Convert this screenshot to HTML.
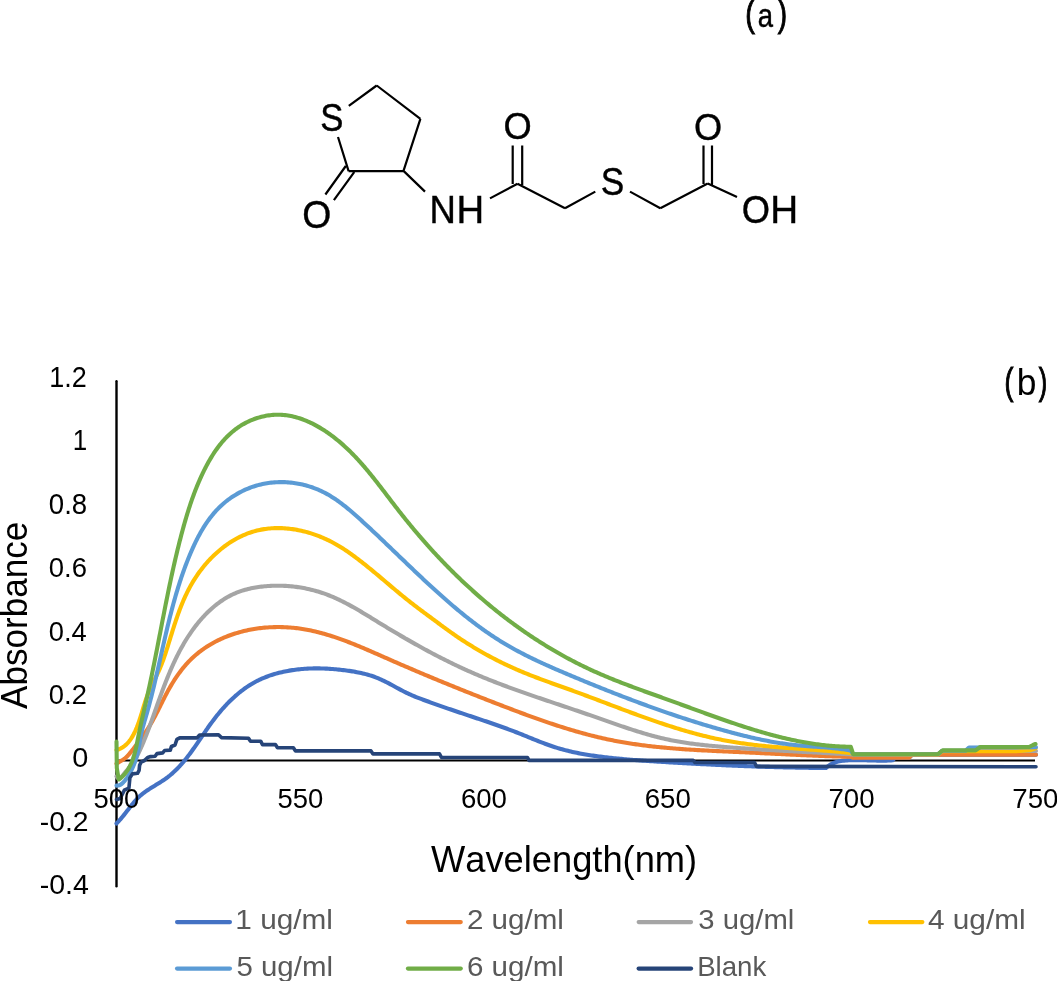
<!DOCTYPE html>
<html><head><meta charset="utf-8"><style>html,body{margin:0;padding:0;background:#fff;overflow:hidden}svg{display:block;will-change:transform}</style></head>
<body><svg width="1057" height="981" viewBox="0 0 1057 981" font-family="&quot;Liberation Sans&quot;, sans-serif" style="font-kerning:none">
<path d="M348.8 105.8L376.7 85.5 M376.7 85.5L420.4 118.9 M420.4 118.9L403.5 170.9 M403.5 171.1L348.6 171.1 M348.6 171.1L338 137 M345.8 166L325.4 194.5 M354.2 172.1L333.9 200.1 M403.5 170.9L425 191.6 M490 198.4L517.5 183.8 M512.7 145.4L512.7 184 M522.2 145.4L522.2 185 M517.5 183.8L565 208.2 M565 208.2L595.3 191.6 M630 191.6L660.3 208.2 M660.3 208.2L707.7 183.5 M703.5 145.6L703.5 184 M712 145.6L712 185 M707.7 183.5L737 197" stroke="#000" stroke-width="2.2" fill="none"/>
<text transform="translate(320.32 131.32) scale(1 1.1221)" font-size="34.74" fill="#000" stroke="#000" stroke-width="0.4">S</text>
<text transform="translate(302.13 227.62) scale(1 1.0322)" font-size="37.36" fill="#000" stroke="#000" stroke-width="0.4">O</text>
<text transform="translate(429.50 223.40) scale(1 1.0865)" font-size="36.52" fill="#000" stroke="#000" stroke-width="0.4">N</text>
<text transform="translate(456.46 223.40) scale(1 1.0358)" font-size="38.31" fill="#000" stroke="#000" stroke-width="0.4">H</text>
<text transform="translate(503.58 139.34) scale(1 1.0030)" font-size="36.33" fill="#000" stroke="#000" stroke-width="0.4">O</text>
<text transform="translate(600.80 195.23) scale(1 1.0855)" font-size="35.26" fill="#000" stroke="#000" stroke-width="0.4">S</text>
<text transform="translate(693.99 139.53) scale(1 1.0344)" font-size="36.18" fill="#000" stroke="#000" stroke-width="0.4">O</text>
<text transform="translate(741.78 222.92) scale(1 1.0691)" font-size="36.33" fill="#000" stroke="#000" stroke-width="0.4">O</text>
<text transform="translate(770.23 223.30) scale(1 1.0224)" font-size="38.67" fill="#000" stroke="#000" stroke-width="0.4">H</text>
<path d="M116.5 760.5H1035" stroke="#000" stroke-width="2.2" fill="none"/>
<path d="M116.5 381.2V886.3" stroke="#000" stroke-width="2.4" stroke-linecap="round" fill="none"/>
<path d="M116.50 823.50L117.55 822.42L118.57 821.33L119.58 820.21L120.57 819.08L121.55 817.93L122.51 816.77L123.46 815.59L124.41 814.41L125.34 813.22L126.27 812.03L127.20 810.83L128.12 809.63L129.05 808.44L129.97 807.25L130.91 806.06L131.84 804.88L132.79 803.71L133.75 802.56L134.72 801.42L135.72 800.30L136.73 799.20L137.76 798.12L138.83 797.08L139.92 796.06L141.04 795.07L142.19 794.12L143.37 793.19L144.57 792.28L145.80 791.40L147.04 790.54L148.31 789.70L149.58 788.87L150.87 788.05L152.17 787.24L153.47 786.44L154.78 785.65L156.08 784.85L157.39 784.06L158.69 783.26L159.99 782.45L161.27 781.64L162.55 780.81L163.81 779.97L165.05 779.12L166.28 778.24L167.48 777.35L168.66 776.43L169.83 775.50L170.97 774.55L172.10 773.58L173.21 772.59L174.30 771.59L175.37 770.57L176.43 769.53L177.48 768.48L178.51 767.42L179.52 766.34L180.52 765.24L181.51 764.14L182.49 763.02L183.45 761.89L184.40 760.75L185.35 759.59L186.28 758.43L187.20 757.26L188.12 756.07L189.02 754.88L189.92 753.68L190.81 752.47L191.70 751.26L192.57 750.04L193.45 748.81L194.31 747.58L195.18 746.34L196.04 745.10L196.90 743.85L197.75 742.60L198.60 741.35L199.46 740.10L200.31 738.84L201.16 737.58L202.01 736.32L202.86 735.07L203.72 733.81L204.57 732.55L205.43 731.29L206.30 730.04L207.16 728.79L208.03 727.54L208.91 726.30L209.79 725.06L210.68 723.82L211.58 722.59L212.48 721.37L213.39 720.15L214.31 718.94L215.24 717.73L216.18 716.54L217.12 715.35L218.08 714.17L219.04 712.99L220.01 711.83L220.99 710.67L221.98 709.53L222.98 708.39L223.99 707.27L225.01 706.15L226.04 705.05L227.07 703.96L228.12 702.88L229.18 701.81L230.25 700.75L231.32 699.71L232.41 698.68L233.51 697.66L234.61 696.65L235.73 695.66L236.86 694.69L238.00 693.73L239.15 692.78L240.31 691.85L241.48 690.93L242.67 690.04L243.86 689.15L245.07 688.29L246.28 687.44L247.51 686.61L248.75 685.80L250.00 685.00L251.27 684.22L252.54 683.47L253.83 682.73L255.13 682.01L256.44 681.31L257.77 680.63L259.10 679.97L260.45 679.34L261.81 678.72L263.18 678.12L264.57 677.55L265.96 676.99L267.36 676.46L268.78 675.94L270.20 675.44L271.63 674.96L273.07 674.50L274.52 674.06L275.98 673.64L277.44 673.24L278.91 672.85L280.39 672.48L281.87 672.13L283.36 671.80L284.85 671.48L286.35 671.18L287.85 670.90L289.36 670.63L290.87 670.38L292.38 670.15L293.89 669.93L295.41 669.73L296.93 669.54L298.45 669.37L299.97 669.21L301.49 669.06L303.01 668.94L304.53 668.82L306.04 668.72L307.56 668.63L309.08 668.56L310.59 668.50L312.10 668.46L313.61 668.42L315.11 668.40L316.61 668.39L318.11 668.40L319.60 668.41L321.09 668.44L322.57 668.48L324.06 668.53L325.54 668.59L327.02 668.66L328.50 668.74L329.98 668.84L331.45 668.94L332.93 669.05L334.41 669.18L335.89 669.31L337.37 669.45L338.85 669.60L340.34 669.76L341.83 669.93L343.32 670.10L344.81 670.29L346.31 670.48L347.81 670.69L349.31 670.90L350.81 671.12L352.32 671.36L353.82 671.60L355.32 671.86L356.81 672.14L358.31 672.43L359.80 672.73L361.28 673.05L362.76 673.39L364.23 673.74L365.69 674.12L367.15 674.51L368.59 674.92L370.03 675.36L371.46 675.81L372.88 676.29L374.29 676.79L375.69 677.32L377.08 677.86L378.46 678.44L379.84 679.03L381.20 679.64L382.55 680.27L383.90 680.92L385.25 681.58L386.58 682.26L387.92 682.94L389.25 683.64L390.57 684.35L391.90 685.06L393.22 685.77L394.54 686.49L395.86 687.21L397.18 687.93L398.51 688.65L399.83 689.37L401.16 690.08L402.49 690.78L403.83 691.47L405.17 692.15L406.51 692.82L407.86 693.47L409.22 694.11L410.59 694.73L411.97 695.33L413.35 695.92L414.74 696.49L416.13 697.05L417.53 697.60L418.94 698.14L420.34 698.67L421.75 699.20L423.16 699.72L424.57 700.25L425.99 700.77L427.40 701.29L428.82 701.80L430.23 702.31L431.65 702.83L433.07 703.34L434.49 703.84L435.91 704.35L437.33 704.85L438.75 705.35L440.17 705.85L441.60 706.35L443.02 706.85L444.45 707.34L445.87 707.84L447.30 708.33L448.73 708.82L450.15 709.31L451.58 709.79L453.01 710.28L454.44 710.77L455.86 711.25L457.29 711.73L458.72 712.22L460.15 712.70L461.58 713.18L463.01 713.66L464.44 714.14L465.86 714.62L467.29 715.09L468.72 715.57L470.15 716.05L471.58 716.53L473.00 717.00L474.43 717.48L475.86 717.96L477.28 718.43L478.71 718.91L480.13 719.39L481.56 719.87L482.98 720.34L484.40 720.82L485.83 721.31L487.25 721.79L488.67 722.27L490.09 722.76L491.51 723.25L492.93 723.74L494.35 724.23L495.77 724.72L497.19 725.22L498.61 725.72L500.02 726.22L501.44 726.73L502.85 727.23L504.27 727.75L505.68 728.26L507.09 728.78L508.50 729.30L509.91 729.83L511.32 730.36L512.73 730.89L514.14 731.43L515.55 731.97L516.95 732.52L518.36 733.07L519.76 733.63L521.16 734.19L522.57 734.76L523.97 735.32L525.37 735.89L526.77 736.47L528.17 737.04L529.57 737.61L530.97 738.18L532.37 738.76L533.78 739.33L535.18 739.89L536.58 740.46L537.99 741.02L539.39 741.57L540.80 742.13L542.21 742.67L543.62 743.21L545.03 743.74L546.45 744.27L547.86 744.78L549.28 745.29L550.70 745.79L552.13 746.27L553.56 746.75L554.99 747.21L556.42 747.66L557.86 748.10L559.29 748.53L560.74 748.95L562.18 749.35L563.63 749.75L565.08 750.13L566.53 750.50L567.99 750.86L569.45 751.21L570.91 751.55L572.37 751.89L573.84 752.21L575.30 752.52L576.77 752.82L578.25 753.12L579.72 753.40L581.19 753.68L582.67 753.95L584.15 754.21L585.63 754.47L587.11 754.72L588.60 754.96L590.08 755.19L591.57 755.42L593.06 755.64L594.55 755.85L596.04 756.06L597.53 756.26L599.02 756.46L600.51 756.65L602.01 756.84L603.50 757.02L605.00 757.20L606.49 757.37L607.99 757.54L609.49 757.70L610.98 757.86L612.48 758.02L613.98 758.18L615.48 758.33L616.98 758.48L618.47 758.62L619.97 758.77L621.47 758.91L622.97 759.04L624.47 759.18L625.97 759.31L627.47 759.44L628.98 759.56L630.48 759.69L631.98 759.81L633.48 759.93L634.98 760.05L636.48 760.16L637.99 760.28L639.49 760.39L640.99 760.50L642.49 760.60L644.00 760.71L645.50 760.81L647.00 760.92L648.50 761.02L650.01 761.12L651.51 761.22L653.01 761.31L654.52 761.41L656.02 761.51L657.52 761.60L659.03 761.69L660.53 761.79L662.03 761.88L663.54 761.97L665.04 762.06L666.54 762.15L668.05 762.24L669.55 762.33L671.05 762.42L672.56 762.51L674.06 762.60L675.56 762.68L677.07 762.77L678.57 762.86L680.07 762.94L681.58 763.03L683.08 763.11L684.58 763.20L686.09 763.28L687.59 763.37L689.09 763.45L690.60 763.53L692.10 763.61L693.60 763.69L695.11 763.78L696.61 763.86L698.11 763.93L699.62 764.01L701.12 764.09L702.62 764.17L704.13 764.25L705.63 764.32L707.13 764.40L708.63 764.48L710.14 764.55L711.64 764.62L713.14 764.70L714.65 764.77L716.15 764.84L717.65 764.91L719.16 764.98L720.66 765.06L722.16 765.12L723.67 765.19L725.17 765.26L726.67 765.33L728.18 765.40L729.68 765.46L731.18 765.53L732.69 765.59L734.19 765.66L735.69 765.72L737.20 765.78L738.70 765.84L740.21 765.91L741.71 765.97L743.21 766.03L744.72 766.08L746.22 766.14L747.72 766.20L749.23 766.26L750.73 766.31L752.23 766.37L753.74 766.42L755.24 766.48L756.75 766.53L758.25 766.58L759.76 766.63L761.26 766.68L762.76 766.73L764.27 766.78L765.77 766.83L767.28 766.88L768.78 766.92L770.29 766.97L771.79 767.01L773.29 767.05L774.80 767.10L776.30 767.14L777.81 767.18L779.31 767.22L780.82 767.26L782.32 767.30L783.83 767.34L785.33 767.37L786.84 767.41L788.34 767.44L789.85 767.48L791.35 767.51L792.86 767.54L794.37 767.57L795.87 767.60L797.38 767.63L798.88 767.66L800.39 767.69L801.89 767.71L803.40 767.74L804.91 767.76L806.41 767.79L807.92 767.81L809.42 767.83L810.93 767.85L812.44 767.87L813.94 767.89L815.45 767.91L816.96 767.92L818.46 767.94L819.97 767.95L821.48 767.97L822.99 767.98L824.49 767.99L826.00 768.00L826.00 768.00L827.16 766.92L828.36 765.94L829.62 765.06L830.92 764.28L832.26 763.59L833.64 762.99L835.06 762.46L836.50 762.00L837.98 761.62L839.47 761.29L840.99 761.02L842.53 760.79L844.08 760.61L845.65 760.47L847.22 760.36L848.80 760.28L850.38 760.22L851.96 760.17L853.54 760.14L855.11 760.13L856.69 760.12L858.27 760.13L859.84 760.15L861.42 760.18L862.99 760.21L864.56 760.25L866.13 760.29L867.70 760.33L869.27 760.38L870.84 760.43L872.41 760.47L873.97 760.51L875.53 760.55L877.10 760.58L878.66 760.61L880.21 760.63L881.77 760.63L883.32 760.63L884.87 760.61L886.42 760.58L887.97 760.54L889.52 760.48L891.06 760.40L892.60 760.30L892.60 760.30L895.00 757.80L909.00 757.80L912.00 754.70L1036.00 754.70" stroke="#4472C4" stroke-width="4.1" stroke-linecap="round" stroke-linejoin="round" fill="none"/>
<path d="M116.50 763.70L117.78 762.88L119.09 762.09L120.40 761.32L121.70 760.55L122.97 759.76L124.19 758.92L125.35 758.02L126.44 757.04L127.47 756.01L128.46 754.93L129.40 753.81L130.33 752.66L131.25 751.49L132.16 750.32L133.08 749.14L134.00 747.96L134.91 746.77L135.83 745.58L136.75 744.39L137.66 743.19L138.57 741.98L139.47 740.77L140.37 739.55L141.27 738.33L142.15 737.11L143.03 735.88L143.90 734.64L144.76 733.40L145.60 732.15L146.44 730.90L147.26 729.64L148.07 728.38L148.87 727.11L149.65 725.83L150.41 724.55L151.16 723.27L151.90 721.98L152.62 720.68L153.34 719.38L154.04 718.08L154.74 716.78L155.43 715.47L156.11 714.15L156.78 712.84L157.45 711.52L158.12 710.20L158.78 708.88L159.44 707.55L160.10 706.23L160.76 704.90L161.42 703.57L162.08 702.25L162.74 700.92L163.41 699.59L164.08 698.27L164.76 696.94L165.44 695.61L166.13 694.29L166.83 692.97L167.54 691.65L168.26 690.33L168.99 689.02L169.73 687.70L170.49 686.40L171.26 685.09L172.04 683.79L172.83 682.50L173.63 681.21L174.45 679.93L175.28 678.66L176.13 677.39L176.98 676.14L177.85 674.89L178.74 673.65L179.64 672.43L180.55 671.21L181.47 670.01L182.41 668.82L183.37 667.64L184.34 666.48L185.32 665.33L186.32 664.20L187.33 663.08L188.35 661.98L189.40 660.90L190.45 659.83L191.52 658.78L192.61 657.76L193.71 656.74L194.82 655.75L195.95 654.77L197.10 653.82L198.25 652.88L199.42 651.95L200.60 651.05L201.80 650.16L203.00 649.29L204.22 648.44L205.45 647.60L206.70 646.78L207.95 645.98L209.22 645.20L210.49 644.43L211.78 643.69L213.08 642.95L214.38 642.24L215.70 641.54L217.03 640.86L218.37 640.20L219.71 639.55L221.07 638.92L222.43 638.31L223.81 637.71L225.19 637.14L226.58 636.57L227.97 636.03L229.38 635.50L230.79 634.99L232.21 634.49L233.63 634.01L235.06 633.55L236.50 633.10L237.95 632.67L239.40 632.26L240.85 631.86L242.31 631.48L243.78 631.11L245.25 630.76L246.73 630.43L248.21 630.11L249.69 629.81L251.18 629.52L252.67 629.25L254.17 629.00L255.67 628.76L257.17 628.54L258.67 628.33L260.18 628.14L261.69 627.97L263.20 627.81L264.71 627.66L266.22 627.54L267.74 627.42L269.25 627.32L270.77 627.24L272.29 627.18L273.80 627.12L275.32 627.09L276.84 627.07L278.35 627.06L279.87 627.07L281.38 627.09L282.89 627.13L284.41 627.18L285.92 627.25L287.42 627.34L288.93 627.43L290.43 627.55L291.93 627.68L293.43 627.82L294.92 627.97L296.42 628.15L297.90 628.33L299.39 628.53L300.87 628.75L302.35 628.97L303.82 629.21L305.29 629.47L306.76 629.73L308.23 630.01L309.69 630.30L311.15 630.61L312.61 630.92L314.06 631.25L315.51 631.59L316.96 631.94L318.41 632.30L319.85 632.67L321.29 633.05L322.73 633.45L324.17 633.85L325.60 634.26L327.03 634.68L328.46 635.11L329.89 635.55L331.31 636.00L332.74 636.46L334.16 636.92L335.58 637.40L336.99 637.88L338.41 638.37L339.82 638.87L341.23 639.37L342.64 639.88L344.05 640.40L345.46 640.92L346.86 641.45L348.26 641.99L349.67 642.53L351.07 643.08L352.47 643.63L353.86 644.19L355.26 644.76L356.65 645.32L358.05 645.90L359.44 646.47L360.83 647.05L362.22 647.63L363.61 648.22L365.00 648.81L366.39 649.40L367.77 650.00L369.16 650.60L370.55 651.20L371.93 651.80L373.31 652.41L374.70 653.01L376.08 653.62L377.46 654.23L378.84 654.84L380.23 655.44L381.61 656.05L382.99 656.66L384.37 657.27L385.75 657.88L387.13 658.49L388.51 659.10L389.89 659.71L391.27 660.31L392.65 660.92L394.03 661.52L395.41 662.12L396.79 662.72L398.17 663.32L399.55 663.92L400.93 664.52L402.31 665.12L403.69 665.71L405.07 666.31L406.45 666.90L407.83 667.49L409.21 668.08L410.59 668.67L411.98 669.26L413.36 669.85L414.74 670.44L416.12 671.02L417.50 671.61L418.88 672.19L420.26 672.78L421.65 673.36L423.03 673.94L424.41 674.52L425.79 675.10L427.17 675.68L428.56 676.26L429.94 676.83L431.32 677.41L432.71 677.99L434.09 678.56L435.47 679.13L436.86 679.71L438.24 680.28L439.63 680.85L441.01 681.42L442.40 681.99L443.78 682.55L445.17 683.12L446.55 683.69L447.94 684.25L449.33 684.82L450.71 685.38L452.10 685.94L453.49 686.51L454.88 687.07L456.26 687.63L457.65 688.19L459.04 688.75L460.43 689.31L461.82 689.87L463.21 690.42L464.60 690.98L465.99 691.54L467.38 692.09L468.77 692.64L470.17 693.20L471.56 693.75L472.95 694.30L474.34 694.86L475.74 695.41L477.13 695.96L478.53 696.51L479.92 697.06L481.32 697.60L482.71 698.15L484.11 698.70L485.51 699.25L486.91 699.79L488.30 700.34L489.70 700.88L491.10 701.43L492.50 701.97L493.90 702.52L495.30 703.06L496.70 703.60L498.11 704.14L499.51 704.68L500.91 705.22L502.32 705.77L503.72 706.30L505.12 706.84L506.53 707.38L507.94 707.92L509.34 708.46L510.75 708.99L512.16 709.53L513.57 710.06L514.98 710.59L516.39 711.12L517.80 711.65L519.21 712.18L520.62 712.71L522.03 713.23L523.45 713.76L524.86 714.28L526.27 714.80L527.69 715.32L529.11 715.84L530.52 716.35L531.94 716.86L533.36 717.37L534.78 717.88L536.20 718.39L537.62 718.89L539.04 719.40L540.46 719.90L541.88 720.39L543.31 720.89L544.73 721.38L546.16 721.87L547.58 722.36L549.01 722.84L550.44 723.32L551.87 723.80L553.30 724.28L554.73 724.75L556.16 725.22L557.59 725.68L559.02 726.15L560.45 726.61L561.89 727.06L563.32 727.51L564.76 727.96L566.20 728.41L567.63 728.85L569.07 729.29L570.51 729.72L571.95 730.15L573.39 730.58L574.84 731.00L576.28 731.42L577.72 731.83L579.17 732.24L580.61 732.65L582.06 733.05L583.51 733.45L584.96 733.84L586.41 734.23L587.86 734.61L589.31 734.99L590.76 735.37L592.22 735.74L593.67 736.10L595.13 736.46L596.58 736.81L598.04 737.16L599.50 737.51L600.96 737.85L602.42 738.18L603.88 738.51L605.35 738.83L606.81 739.15L608.27 739.46L609.74 739.77L611.21 740.07L612.68 740.36L614.14 740.65L615.62 740.94L617.09 741.21L618.56 741.49L620.03 741.75L621.51 742.02L622.98 742.27L624.46 742.53L625.93 742.77L627.41 743.02L628.89 743.25L630.37 743.49L631.85 743.71L633.33 743.94L634.82 744.15L636.30 744.37L637.78 744.58L639.27 744.78L640.75 744.98L642.24 745.18L643.73 745.37L645.21 745.56L646.70 745.74L648.19 745.92L649.68 746.10L651.17 746.27L652.66 746.44L654.16 746.61L655.65 746.77L657.14 746.92L658.63 747.08L660.13 747.23L661.62 747.38L663.12 747.52L664.61 747.66L666.11 747.80L667.61 747.93L669.10 748.06L670.60 748.19L672.10 748.32L673.60 748.44L675.10 748.56L676.60 748.68L678.10 748.79L679.60 748.90L681.10 749.01L682.60 749.12L684.10 749.23L685.60 749.33L687.11 749.43L688.61 749.53L690.11 749.62L691.61 749.72L693.12 749.81L694.62 749.90L696.12 749.99L697.63 750.08L699.13 750.16L700.63 750.25L702.14 750.33L703.64 750.41L705.15 750.49L706.65 750.57L708.16 750.64L709.66 750.72L711.17 750.80L712.67 750.87L714.18 750.94L715.68 751.01L717.19 751.09L718.69 751.16L720.20 751.23L721.70 751.30L723.20 751.36L724.71 751.43L726.21 751.50L727.72 751.57L729.22 751.64L730.73 751.70L732.23 751.77L733.73 751.84L735.24 751.91L736.74 751.97L738.24 752.04L739.75 752.11L741.25 752.18L742.75 752.24L744.26 752.31L745.76 752.38L747.26 752.45L748.76 752.52L750.26 752.59L751.76 752.67L753.26 752.74L754.76 752.81L756.26 752.88L757.76 752.96L759.26 753.03L760.76 753.10L762.26 753.18L763.76 753.25L765.26 753.33L766.76 753.40L768.26 753.48L769.76 753.55L771.25 753.63L772.75 753.70L774.25 753.77L775.75 753.85L777.25 753.92L778.74 754.00L780.24 754.07L781.74 754.15L783.24 754.22L784.74 754.30L786.23 754.37L787.73 754.44L789.23 754.52L790.73 754.59L792.22 754.66L793.72 754.73L795.22 754.80L796.72 754.87L798.22 754.94L799.72 755.01L801.21 755.08L802.71 755.15L804.21 755.22L805.71 755.29L807.21 755.35L808.71 755.42L810.21 755.48L811.71 755.55L813.21 755.61L814.71 755.67L816.21 755.73L817.71 755.79L819.21 755.85L820.71 755.91L822.21 755.97L823.71 756.02L825.21 756.08L826.71 756.13L828.22 756.18L829.72 756.23L831.22 756.28L832.73 756.33L834.23 756.38L835.73 756.43L837.24 756.47L838.74 756.51L840.25 756.55L841.76 756.59L843.26 756.63L844.77 756.67L846.28 756.70L847.78 756.74L849.29 756.77L850.80 756.80L850.80 756.80L853.20 757.80L909.00 757.80L912.00 754.70L1036.00 754.70" stroke="#ED7D31" stroke-width="4.1" stroke-linecap="round" stroke-linejoin="round" fill="none"/>
<path d="M116.50 776.40L117.52 777.81L118.52 778.46L119.50 778.49L120.49 777.99L121.47 777.10L122.47 775.92L123.48 774.57L124.51 773.16L125.57 771.82L126.66 770.57L127.75 769.41L128.84 768.29L129.89 767.18L130.90 766.07L131.84 764.91L132.72 763.71L133.54 762.47L134.32 761.20L135.06 759.90L135.77 758.59L136.46 757.26L137.14 755.92L137.80 754.58L138.45 753.24L139.10 751.89L139.73 750.53L140.36 749.18L140.97 747.82L141.58 746.45L142.17 745.08L142.76 743.71L143.35 742.34L143.92 740.96L144.49 739.58L145.05 738.19L145.61 736.80L146.16 735.41L146.70 734.02L147.24 732.62L147.77 731.22L148.30 729.82L148.83 728.42L149.35 727.01L149.87 725.60L150.38 724.19L150.89 722.78L151.40 721.37L151.91 719.95L152.42 718.54L152.92 717.12L153.43 715.70L153.93 714.28L154.43 712.86L154.94 711.43L155.44 710.01L155.94 708.58L156.45 707.16L156.95 705.73L157.46 704.31L157.97 702.88L158.48 701.46L158.99 700.03L159.50 698.61L160.02 697.18L160.54 695.76L161.06 694.33L161.58 692.91L162.10 691.49L162.63 690.07L163.16 688.65L163.70 687.23L164.24 685.82L164.78 684.41L165.33 682.99L165.88 681.58L166.44 680.18L167.00 678.77L167.56 677.37L168.13 675.97L168.70 674.57L169.28 673.18L169.87 671.79L170.46 670.40L171.06 669.02L171.66 667.64L172.27 666.26L172.89 664.89L173.51 663.52L174.14 662.16L174.78 660.80L175.42 659.45L176.07 658.10L176.73 656.75L177.40 655.41L178.08 654.07L178.76 652.74L179.45 651.42L180.15 650.10L180.86 648.79L181.58 647.48L182.31 646.18L183.04 644.88L183.79 643.59L184.55 642.31L185.31 641.03L186.09 639.77L186.87 638.50L187.67 637.25L188.48 636.00L189.30 634.76L190.13 633.53L190.97 632.30L191.82 631.08L192.68 629.87L193.56 628.67L194.45 627.48L195.35 626.29L196.26 625.12L197.19 623.95L198.12 622.79L199.07 621.64L200.04 620.50L201.02 619.37L202.01 618.25L203.01 617.14L204.03 616.04L205.06 614.95L206.10 613.88L207.16 612.81L208.23 611.77L209.32 610.73L210.41 609.71L211.52 608.71L212.65 607.72L213.79 606.75L214.94 605.79L216.10 604.86L217.28 603.94L218.47 603.04L219.68 602.15L220.90 601.29L222.13 600.45L223.38 599.63L224.63 598.83L225.91 598.06L227.19 597.30L228.49 596.57L229.81 595.87L231.14 595.19L232.48 594.53L233.83 593.90L235.20 593.29L236.58 592.71L237.98 592.16L239.39 591.64L240.81 591.14L242.24 590.67L243.68 590.22L245.14 589.80L246.60 589.40L248.07 589.03L249.55 588.68L251.04 588.35L252.54 588.04L254.04 587.76L255.54 587.50L257.05 587.25L258.56 587.03L260.08 586.82L261.60 586.64L263.12 586.47L264.64 586.32L266.16 586.18L267.68 586.06L269.20 585.96L270.71 585.88L272.23 585.81L273.74 585.76L275.26 585.72L276.77 585.70L278.28 585.69L279.79 585.71L281.30 585.74L282.81 585.78L284.31 585.84L285.81 585.92L287.31 586.01L288.81 586.12L290.31 586.24L291.80 586.38L293.29 586.54L294.77 586.71L296.26 586.90L297.74 587.10L299.22 587.32L300.69 587.55L302.16 587.80L303.63 588.07L305.09 588.35L306.56 588.65L308.01 588.96L309.46 589.29L310.91 589.64L312.36 590.00L313.80 590.37L315.23 590.76L316.66 591.17L318.09 591.59L319.51 592.03L320.93 592.48L322.34 592.95L323.74 593.43L325.14 593.93L326.54 594.44L327.93 594.97L329.31 595.51L330.69 596.07L332.07 596.64L333.44 597.22L334.80 597.82L336.16 598.43L337.52 599.05L338.87 599.69L340.21 600.34L341.56 600.99L342.90 601.66L344.23 602.34L345.56 603.03L346.89 603.72L348.21 604.43L349.54 605.14L350.85 605.87L352.17 606.60L353.48 607.33L354.79 608.08L356.10 608.83L357.41 609.58L358.71 610.34L360.01 611.11L361.31 611.88L362.61 612.66L363.91 613.44L365.20 614.22L366.50 615.00L367.79 615.79L369.09 616.58L370.38 617.37L371.67 618.17L372.96 618.96L374.25 619.76L375.54 620.55L376.83 621.34L378.12 622.14L379.41 622.93L380.70 623.72L382.00 624.51L383.29 625.29L384.58 626.08L385.88 626.86L387.17 627.64L388.46 628.43L389.76 629.20L391.05 629.98L392.35 630.76L393.65 631.53L394.95 632.30L396.24 633.07L397.54 633.84L398.84 634.60L400.14 635.37L401.44 636.13L402.75 636.89L404.05 637.64L405.35 638.40L406.66 639.15L407.96 639.90L409.27 640.65L410.57 641.39L411.88 642.14L413.19 642.88L414.50 643.62L415.81 644.35L417.12 645.09L418.44 645.82L419.75 646.55L421.07 647.27L422.38 648.00L423.70 648.72L425.02 649.44L426.34 650.15L427.66 650.86L428.98 651.57L430.30 652.28L431.63 652.98L432.95 653.69L434.28 654.38L435.61 655.08L436.94 655.77L438.27 656.46L439.60 657.15L440.93 657.83L442.27 658.51L443.60 659.19L444.94 659.86L446.28 660.53L447.62 661.20L448.96 661.86L450.30 662.52L451.65 663.18L453.00 663.83L454.35 664.48L455.69 665.13L457.05 665.77L458.40 666.41L459.75 667.04L461.11 667.67L462.47 668.30L463.83 668.93L465.19 669.55L466.55 670.17L467.92 670.78L469.29 671.39L470.65 671.99L472.03 672.59L473.40 673.19L474.77 673.79L476.15 674.38L477.53 674.96L478.91 675.54L480.29 676.12L481.67 676.70L483.05 677.27L484.44 677.84L485.83 678.41L487.22 678.97L488.61 679.53L490.00 680.08L491.39 680.64L492.79 681.19L494.18 681.73L495.58 682.28L496.98 682.82L498.38 683.36L499.78 683.89L501.19 684.43L502.59 684.96L504.00 685.48L505.40 686.01L506.81 686.53L508.22 687.05L509.63 687.57L511.04 688.09L512.45 688.60L513.86 689.12L515.28 689.63L516.69 690.14L518.11 690.64L519.52 691.15L520.94 691.65L522.36 692.15L523.78 692.65L525.20 693.15L526.62 693.64L528.04 694.14L529.46 694.63L530.88 695.13L532.30 695.62L533.73 696.11L535.15 696.60L536.58 697.08L538.00 697.57L539.43 698.06L540.85 698.54L542.28 699.02L543.70 699.51L545.13 699.99L546.56 700.47L547.99 700.95L549.41 701.43L550.84 701.91L552.27 702.39L553.70 702.87L555.13 703.35L556.56 703.83L557.98 704.31L559.41 704.79L560.84 705.27L562.27 705.75L563.70 706.22L565.13 706.70L566.56 707.18L567.99 707.66L569.41 708.14L570.84 708.62L572.27 709.10L573.70 709.58L575.13 710.07L576.55 710.55L577.98 711.03L579.41 711.51L580.83 712.00L582.26 712.49L583.68 712.97L585.11 713.46L586.53 713.95L587.96 714.44L589.38 714.93L590.80 715.42L592.22 715.92L593.65 716.41L595.07 716.91L596.49 717.40L597.91 717.90L599.33 718.40L600.75 718.90L602.17 719.40L603.58 719.90L605.00 720.40L606.42 720.90L607.84 721.40L609.26 721.89L610.68 722.39L612.09 722.89L613.51 723.38L614.93 723.88L616.35 724.37L617.77 724.86L619.19 725.35L620.61 725.83L622.03 726.32L623.45 726.80L624.87 727.28L626.29 727.76L627.72 728.23L629.14 728.70L630.56 729.17L631.99 729.63L633.41 730.09L634.84 730.55L636.27 731.00L637.70 731.45L639.13 731.89L640.56 732.33L641.99 732.77L643.43 733.20L644.86 733.62L646.30 734.04L647.74 734.45L649.18 734.86L650.62 735.26L652.06 735.66L653.50 736.05L654.95 736.43L656.40 736.81L657.85 737.18L659.30 737.54L660.75 737.90L662.21 738.25L663.66 738.59L665.12 738.92L666.59 739.25L668.05 739.57L669.52 739.88L670.98 740.18L672.45 740.47L673.93 740.76L675.40 741.04L676.88 741.31L678.36 741.57L679.84 741.82L681.32 742.07L682.81 742.31L684.29 742.55L685.78 742.77L687.27 742.99L688.76 743.21L690.25 743.42L691.75 743.62L693.24 743.82L694.74 744.01L696.23 744.20L697.73 744.38L699.23 744.55L700.73 744.73L702.23 744.89L703.73 745.05L705.24 745.21L706.74 745.37L708.24 745.52L709.75 745.67L711.25 745.81L712.76 745.95L714.26 746.09L715.77 746.22L717.27 746.35L718.78 746.48L720.28 746.61L721.79 746.73L723.29 746.85L724.80 746.97L726.30 747.09L727.81 747.21L729.31 747.33L730.81 747.44L732.32 747.56L733.82 747.67L735.32 747.78L736.82 747.89L738.33 748.00L739.83 748.11L741.33 748.21L742.83 748.32L744.33 748.42L745.83 748.52L747.33 748.63L748.83 748.73L750.33 748.83L751.83 748.92L753.32 749.02L754.82 749.12L756.32 749.21L757.82 749.31L759.32 749.40L760.82 749.50L762.31 749.59L763.81 749.68L765.31 749.77L766.81 749.86L768.30 749.95L769.80 750.04L771.30 750.13L772.79 750.21L774.29 750.30L775.79 750.39L777.28 750.47L778.78 750.56L780.28 750.64L781.77 750.72L783.27 750.81L784.77 750.89L786.26 750.97L787.76 751.05L789.26 751.13L790.75 751.22L792.25 751.30L793.75 751.38L795.25 751.46L796.74 751.54L798.24 751.62L799.74 751.69L801.23 751.77L802.73 751.85L804.23 751.93L805.73 752.01L807.23 752.09L808.72 752.16L810.22 752.24L811.72 752.32L813.22 752.40L814.72 752.48L816.22 752.55L817.72 752.63L819.22 752.71L820.72 752.79L822.22 752.87L823.72 752.94L825.22 753.02L826.72 753.10L828.23 753.18L829.73 753.26L831.23 753.34L832.73 753.42L834.24 753.50L835.74 753.58L837.24 753.66L838.75 753.74L840.25 753.82L841.76 753.90L843.26 753.98L844.77 754.07L846.28 754.15L847.78 754.23L849.29 754.32L850.80 754.40L850.80 754.40L853.20 754.30L938.00 754.30L942.00 751.00L1036.00 751.00" stroke="#A5A5A5" stroke-width="4.1" stroke-linecap="round" stroke-linejoin="round" fill="none"/>
<path d="M116.50 750.10L118.03 749.60L119.50 749.00L120.88 748.33L122.20 747.59L123.45 746.77L124.64 745.88L125.77 744.93L126.83 743.93L127.85 742.86L128.81 741.75L129.72 740.60L130.58 739.40L131.41 738.17L132.19 736.90L132.93 735.61L133.64 734.30L134.32 732.96L134.97 731.62L135.59 730.26L136.19 728.88L136.77 727.50L137.32 726.10L137.86 724.70L138.38 723.29L138.88 721.87L139.37 720.44L139.84 719.01L140.30 717.57L140.76 716.12L141.21 714.68L141.65 713.23L142.09 711.78L142.52 710.33L142.96 708.87L143.40 707.42L143.84 705.97L144.29 704.53L144.74 703.08L145.20 701.65L145.68 700.21L146.16 698.79L146.66 697.37L147.18 695.96L147.71 694.55L148.26 693.16L148.83 691.78L149.43 690.40L150.03 689.04L150.66 687.68L151.30 686.33L151.94 684.98L152.60 683.64L153.26 682.30L153.93 680.97L154.59 679.63L155.26 678.29L155.92 676.95L156.58 675.61L157.23 674.26L157.87 672.91L158.50 671.55L159.11 670.19L159.71 668.81L160.30 667.43L160.87 666.04L161.43 664.65L161.97 663.25L162.51 661.84L163.03 660.43L163.54 659.01L164.05 657.59L164.54 656.16L165.03 654.73L165.51 653.30L165.98 651.86L166.45 650.42L166.91 648.98L167.37 647.53L167.82 646.09L168.27 644.64L168.72 643.19L169.17 641.75L169.61 640.30L170.06 638.85L170.50 637.41L170.95 635.96L171.40 634.52L171.85 633.07L172.30 631.63L172.75 630.19L173.20 628.75L173.66 627.32L174.12 625.88L174.58 624.45L175.05 623.02L175.52 621.59L176.00 620.17L176.48 618.74L176.97 617.32L177.46 615.91L177.96 614.49L178.47 613.08L178.98 611.68L179.50 610.27L180.03 608.87L180.57 607.48L181.12 606.09L181.67 604.70L182.23 603.32L182.81 601.94L183.39 600.56L183.99 599.19L184.59 597.83L185.21 596.47L185.84 595.12L186.48 593.77L187.13 592.42L187.79 591.09L188.47 589.75L189.17 588.43L189.87 587.11L190.59 585.80L191.33 584.49L192.08 583.19L192.84 581.89L193.63 580.61L194.42 579.33L195.24 578.05L196.07 576.79L196.91 575.53L197.77 574.29L198.65 573.05L199.54 571.82L200.44 570.60L201.36 569.39L202.29 568.19L203.24 567.00L204.21 565.82L205.18 564.65L206.17 563.50L207.18 562.36L208.20 561.23L209.23 560.11L210.27 559.00L211.33 557.91L212.40 556.84L213.49 555.77L214.58 554.72L215.69 553.69L216.81 552.67L217.95 551.67L219.09 550.68L220.25 549.71L221.42 548.76L222.60 547.82L223.79 546.90L225.00 546.00L226.21 545.12L227.44 544.25L228.68 543.40L229.92 542.58L231.18 541.77L232.45 540.98L233.73 540.21L235.02 539.46L236.31 538.74L237.62 538.03L238.94 537.35L240.27 536.69L241.60 536.05L242.95 535.43L244.30 534.84L245.66 534.27L247.04 533.72L248.42 533.20L249.80 532.70L251.20 532.23L252.60 531.78L254.02 531.36L255.44 530.96L256.86 530.59L258.30 530.24L259.74 529.93L261.19 529.63L262.65 529.37L264.11 529.13L265.57 528.91L267.04 528.72L268.52 528.56L270.00 528.42L271.49 528.30L272.97 528.21L274.47 528.15L275.96 528.10L277.46 528.08L278.96 528.09L280.46 528.11L281.96 528.16L283.47 528.24L284.97 528.33L286.48 528.45L287.99 528.59L289.49 528.75L291.00 528.93L292.50 529.13L294.00 529.36L295.50 529.60L297.00 529.87L298.50 530.15L299.99 530.46L301.48 530.78L302.96 531.13L304.45 531.49L305.92 531.88L307.40 532.28L308.86 532.70L310.33 533.14L311.78 533.60L313.23 534.08L314.68 534.57L316.11 535.08L317.54 535.61L318.97 536.16L320.38 536.72L321.79 537.30L323.18 537.90L324.57 538.51L325.95 539.14L327.32 539.78L328.67 540.44L330.02 541.11L331.36 541.80L332.69 542.51L334.01 543.22L335.32 543.95L336.62 544.70L337.92 545.45L339.21 546.22L340.48 547.00L341.75 547.79L343.02 548.59L344.27 549.41L345.52 550.23L346.77 551.06L348.00 551.91L349.23 552.76L350.46 553.62L351.68 554.49L352.89 555.36L354.10 556.25L355.30 557.14L356.50 558.03L357.70 558.94L358.89 559.85L360.08 560.76L361.26 561.68L362.44 562.61L363.62 563.54L364.79 564.47L365.96 565.40L367.13 566.35L368.30 567.29L369.46 568.24L370.63 569.19L371.79 570.14L372.94 571.10L374.10 572.05L375.26 573.01L376.41 573.98L377.56 574.94L378.71 575.91L379.86 576.88L381.01 577.84L382.16 578.81L383.31 579.79L384.46 580.76L385.61 581.73L386.76 582.70L387.91 583.67L389.06 584.64L390.20 585.62L391.35 586.59L392.50 587.56L393.66 588.53L394.81 589.49L395.96 590.46L397.12 591.43L398.28 592.39L399.43 593.35L400.59 594.31L401.76 595.26L402.92 596.22L404.09 597.17L405.26 598.12L406.43 599.06L407.60 600.00L408.78 600.94L409.96 601.87L411.15 602.80L412.33 603.73L413.52 604.65L414.72 605.56L415.91 606.48L417.11 607.39L418.31 608.30L419.51 609.20L420.72 610.10L421.92 611.00L423.13 611.90L424.33 612.80L425.54 613.69L426.75 614.59L427.96 615.48L429.16 616.37L430.37 617.26L431.58 618.16L432.78 619.05L433.98 619.94L435.19 620.83L436.39 621.73L437.59 622.62L438.79 623.51L439.99 624.40L441.19 625.29L442.39 626.18L443.60 627.06L444.80 627.95L446.01 628.83L447.22 629.71L448.43 630.58L449.64 631.46L450.86 632.32L452.08 633.19L453.30 634.05L454.53 634.91L455.76 635.76L457.00 636.60L458.24 637.44L459.48 638.28L460.73 639.11L461.98 639.94L463.23 640.76L464.49 641.58L465.76 642.39L467.03 643.20L468.30 644.00L469.57 644.79L470.85 645.59L472.13 646.37L473.42 647.15L474.71 647.93L476.00 648.70L477.30 649.46L478.60 650.22L479.90 650.98L481.21 651.73L482.52 652.47L483.83 653.21L485.15 653.95L486.47 654.68L487.79 655.40L489.11 656.12L490.44 656.83L491.77 657.54L493.11 658.24L494.44 658.93L495.78 659.62L497.13 660.31L498.47 660.99L499.82 661.66L501.17 662.33L502.52 662.99L503.88 663.65L505.23 664.30L506.60 664.95L507.96 665.59L509.32 666.22L510.69 666.85L512.06 667.47L513.43 668.09L514.81 668.70L516.18 669.31L517.56 669.91L518.94 670.50L520.32 671.09L521.70 671.67L523.09 672.25L524.48 672.82L525.87 673.38L527.26 673.95L528.65 674.50L530.04 675.06L531.44 675.61L532.84 676.15L534.23 676.69L535.63 677.23L537.03 677.76L538.44 678.29L539.84 678.82L541.24 679.34L542.65 679.86L544.05 680.38L545.46 680.90L546.87 681.42L548.28 681.93L549.69 682.44L551.10 682.95L552.51 683.46L553.92 683.97L555.33 684.47L556.74 684.98L558.15 685.48L559.57 685.99L560.98 686.49L562.39 687.00L563.81 687.50L565.22 688.01L566.63 688.51L568.05 689.02L569.46 689.53L570.87 690.04L572.29 690.55L573.70 691.06L575.11 691.58L576.52 692.09L577.94 692.61L579.35 693.13L580.76 693.65L582.17 694.17L583.58 694.70L584.99 695.22L586.40 695.75L587.81 696.27L589.23 696.80L590.64 697.33L592.05 697.86L593.46 698.39L594.87 698.92L596.28 699.45L597.69 699.98L599.10 700.52L600.51 701.05L601.92 701.58L603.33 702.12L604.74 702.65L606.15 703.19L607.56 703.72L608.97 704.25L610.38 704.79L611.79 705.32L613.20 705.85L614.61 706.39L616.02 706.92L617.43 707.45L618.85 707.98L620.26 708.52L621.67 709.05L623.08 709.58L624.49 710.10L625.91 710.63L627.32 711.16L628.73 711.68L630.15 712.21L631.56 712.73L632.98 713.25L634.39 713.77L635.81 714.29L637.22 714.81L638.64 715.33L640.06 715.84L641.47 716.35L642.89 716.86L644.31 717.37L645.73 717.88L647.15 718.38L648.57 718.88L649.99 719.38L651.41 719.88L652.83 720.38L654.25 720.87L655.68 721.36L657.10 721.85L658.52 722.33L659.95 722.82L661.37 723.30L662.80 723.77L664.23 724.25L665.65 724.72L667.08 725.19L668.51 725.65L669.94 726.11L671.37 726.57L672.81 727.02L674.24 727.48L675.67 727.92L677.11 728.37L678.54 728.81L679.98 729.24L681.42 729.67L682.85 730.10L684.29 730.53L685.73 730.95L687.17 731.36L688.62 731.78L690.06 732.18L691.50 732.59L692.95 732.99L694.40 733.38L695.84 733.77L697.29 734.15L698.74 734.53L700.19 734.91L701.64 735.28L703.10 735.64L704.55 736.00L706.01 736.36L707.46 736.71L708.92 737.05L710.38 737.39L711.84 737.73L713.30 738.06L714.77 738.38L716.23 738.69L717.70 739.01L719.16 739.31L720.63 739.61L722.10 739.90L723.58 740.19L725.05 740.47L726.52 740.75L728.00 741.02L729.48 741.28L730.95 741.54L732.43 741.79L733.91 742.03L735.40 742.27L736.88 742.50L738.37 742.73L739.85 742.96L741.34 743.17L742.83 743.39L744.32 743.59L745.81 743.80L747.30 743.99L748.79 744.19L750.29 744.38L751.78 744.56L753.28 744.74L754.77 744.92L756.27 745.09L757.77 745.26L759.27 745.42L760.77 745.58L762.27 745.74L763.77 745.89L765.27 746.04L766.77 746.19L768.27 746.33L769.78 746.47L771.28 746.61L772.78 746.75L774.29 746.88L775.79 747.01L777.30 747.14L778.81 747.27L780.31 747.39L781.82 747.51L783.32 747.63L784.83 747.75L786.34 747.86L787.84 747.98L789.35 748.09L790.86 748.21L792.36 748.32L793.87 748.43L795.38 748.54L796.89 748.64L798.39 748.75L799.90 748.86L801.41 748.96L802.91 749.07L804.42 749.18L805.92 749.28L807.43 749.39L808.93 749.49L810.44 749.60L811.94 749.71L813.45 749.81L814.95 749.92L816.45 750.03L817.95 750.14L819.46 750.25L820.96 750.36L822.46 750.47L823.96 750.59L825.46 750.70L826.96 750.82L828.45 750.94L829.95 751.06L831.45 751.18L832.94 751.31L834.43 751.43L835.93 751.56L837.42 751.69L838.91 751.83L840.40 751.96L841.89 752.10L843.38 752.24L844.86 752.39L846.35 752.54L847.83 752.69L849.32 752.84L850.80 753.00L850.80 753.00L853.20 754.40L938.00 754.40L942.00 751.20L1015.30 751.30L1030.00 750.20L1035.50 748.20" stroke="#FFC000" stroke-width="4.1" stroke-linecap="round" stroke-linejoin="round" fill="none"/>
<path d="M116.50 785.60L118.06 785.55L119.45 785.18L120.70 784.55L121.85 783.72L122.91 782.75L123.93 781.69L124.91 780.57L125.85 779.39L126.75 778.17L127.62 776.91L128.45 775.60L129.24 774.28L130.01 772.93L130.74 771.57L131.43 770.19L132.10 768.82L132.73 767.45L133.34 766.07L133.91 764.69L134.46 763.31L134.97 761.92L135.46 760.53L135.92 759.13L136.36 757.72L136.77 756.30L137.16 754.87L137.52 753.43L137.86 751.98L138.18 750.52L138.48 749.06L138.76 747.58L139.04 746.10L139.30 744.61L139.56 743.12L139.82 741.62L140.08 740.13L140.35 738.63L140.62 737.14L140.90 735.65L141.20 734.16L141.51 732.68L141.85 731.21L142.20 729.74L142.57 728.28L142.96 726.82L143.36 725.37L143.77 723.93L144.18 722.48L144.60 721.04L145.03 719.60L145.45 718.16L145.88 716.72L146.29 715.27L146.71 713.83L147.12 712.39L147.52 710.94L147.93 709.49L148.32 708.04L148.72 706.59L149.11 705.14L149.50 703.69L149.88 702.24L150.26 700.79L150.64 699.33L151.01 697.88L151.38 696.42L151.75 694.96L152.12 693.50L152.48 692.05L152.84 690.59L153.20 689.13L153.55 687.67L153.91 686.20L154.26 684.74L154.60 683.28L154.95 681.82L155.30 680.35L155.64 678.89L155.98 677.42L156.32 675.96L156.66 674.49L157.00 673.03L157.33 671.56L157.67 670.09L158.00 668.63L158.34 667.16L158.67 665.69L159.00 664.22L159.33 662.76L159.66 661.29L159.99 659.82L160.32 658.35L160.65 656.88L160.98 655.42L161.31 653.95L161.64 652.48L161.97 651.01L162.30 649.54L162.63 648.07L162.96 646.61L163.29 645.14L163.62 643.67L163.96 642.20L164.29 640.74L164.63 639.27L164.96 637.80L165.30 636.34L165.64 634.87L165.98 633.41L166.32 631.94L166.67 630.48L167.01 629.02L167.36 627.55L167.71 626.09L168.06 624.63L168.41 623.17L168.77 621.71L169.13 620.25L169.49 618.79L169.85 617.33L170.22 615.87L170.59 614.41L170.96 612.96L171.34 611.50L171.71 610.05L172.10 608.60L172.48 607.14L172.87 605.69L173.26 604.24L173.66 602.79L174.06 601.35L174.46 599.90L174.87 598.45L175.28 597.01L175.69 595.56L176.11 594.12L176.54 592.68L176.97 591.24L177.40 589.80L177.84 588.37L178.28 586.93L178.73 585.50L179.18 584.06L179.64 582.63L180.10 581.20L180.57 579.77L181.04 578.35L181.52 576.92L182.01 575.50L182.50 574.08L183.00 572.66L183.50 571.24L184.01 569.82L184.52 568.41L185.04 567.00L185.57 565.58L186.10 564.17L186.65 562.77L187.19 561.36L187.75 559.96L188.31 558.56L188.88 557.16L189.45 555.76L190.03 554.36L190.62 552.97L191.22 551.58L191.82 550.19L192.44 548.81L193.06 547.43L193.69 546.05L194.33 544.68L194.98 543.31L195.64 541.95L196.30 540.59L196.98 539.24L197.67 537.89L198.37 536.55L199.08 535.22L199.81 533.90L200.54 532.58L201.29 531.28L202.05 529.98L202.82 528.69L203.60 527.41L204.40 526.14L205.21 524.88L206.03 523.63L206.87 522.40L207.73 521.17L208.60 519.96L209.48 518.76L210.38 517.57L211.29 516.39L212.22 515.23L213.17 514.08L214.13 512.95L215.11 511.83L216.11 510.72L217.13 509.63L218.16 508.56L219.21 507.51L220.28 506.47L221.37 505.44L222.47 504.44L223.60 503.45L224.74 502.48L225.91 501.53L227.09 500.60L228.29 499.69L229.51 498.80L230.74 497.92L231.99 497.07L233.25 496.24L234.54 495.43L235.83 494.64L237.14 493.87L238.46 493.12L239.80 492.40L241.14 491.70L242.50 491.02L243.88 490.36L245.26 489.73L246.65 489.12L248.05 488.53L249.46 487.97L250.88 487.44L252.31 486.93L253.74 486.44L255.18 485.98L256.63 485.54L258.09 485.14L259.55 484.75L261.01 484.40L262.48 484.07L263.96 483.77L265.44 483.49L266.92 483.24L268.40 483.01L269.89 482.81L271.38 482.63L272.87 482.48L274.37 482.36L275.87 482.26L277.36 482.18L278.86 482.13L280.36 482.11L281.86 482.10L283.36 482.13L284.85 482.17L286.35 482.25L287.84 482.34L289.34 482.46L290.83 482.61L292.31 482.77L293.80 482.97L295.28 483.18L296.76 483.42L298.23 483.68L299.70 483.96L301.16 484.27L302.62 484.60L304.08 484.96L305.52 485.33L306.97 485.73L308.40 486.15L309.83 486.60L311.25 487.06L312.66 487.55L314.06 488.06L315.46 488.60L316.85 489.15L318.22 489.73L319.59 490.32L320.95 490.94L322.29 491.58L323.63 492.25L324.96 492.93L326.27 493.63L327.58 494.35L328.87 495.10L330.15 495.86L331.43 496.64L332.69 497.43L333.95 498.24L335.20 499.07L336.44 499.92L337.67 500.78L338.89 501.65L340.11 502.54L341.31 503.44L342.51 504.35L343.71 505.27L344.90 506.21L346.08 507.15L347.25 508.10L348.42 509.07L349.58 510.04L350.74 511.02L351.90 512.01L353.04 513.00L354.19 514.00L355.33 515.01L356.47 516.02L357.60 517.04L358.73 518.06L359.86 519.08L360.98 520.10L362.10 521.13L363.22 522.15L364.34 523.18L365.45 524.21L366.57 525.24L367.68 526.27L368.79 527.30L369.90 528.34L371.00 529.37L372.11 530.40L373.21 531.44L374.31 532.47L375.41 533.51L376.51 534.55L377.60 535.59L378.70 536.62L379.79 537.66L380.89 538.70L381.98 539.74L383.07 540.78L384.16 541.82L385.25 542.86L386.33 543.90L387.42 544.95L388.51 545.99L389.59 547.03L390.68 548.07L391.76 549.11L392.85 550.15L393.93 551.19L395.01 552.24L396.09 553.28L397.18 554.32L398.26 555.36L399.34 556.40L400.42 557.44L401.50 558.48L402.58 559.52L403.66 560.56L404.75 561.60L405.83 562.64L406.91 563.67L407.99 564.71L409.07 565.75L410.16 566.78L411.24 567.82L412.32 568.85L413.41 569.89L414.49 570.92L415.58 571.95L416.67 572.98L417.75 574.01L418.84 575.04L419.93 576.07L421.02 577.09L422.12 578.12L423.21 579.14L424.30 580.17L425.40 581.19L426.49 582.21L427.59 583.23L428.69 584.24L429.79 585.26L430.89 586.28L432.00 587.29L433.10 588.30L434.21 589.31L435.32 590.32L436.43 591.32L437.55 592.33L438.66 593.33L439.78 594.33L440.90 595.33L442.02 596.33L443.14 597.32L444.27 598.32L445.40 599.31L446.53 600.30L447.66 601.28L448.80 602.27L449.94 603.25L451.08 604.23L452.22 605.21L453.37 606.19L454.52 607.16L455.67 608.13L456.82 609.10L457.98 610.06L459.14 611.03L460.31 611.98L461.47 612.94L462.64 613.89L463.81 614.84L464.99 615.79L466.17 616.73L467.35 617.67L468.54 618.60L469.72 619.53L470.92 620.46L472.11 621.38L473.31 622.30L474.51 623.22L475.71 624.12L476.92 625.03L478.13 625.93L479.35 626.82L480.56 627.71L481.78 628.60L483.01 629.48L484.24 630.35L485.47 631.22L486.70 632.08L487.94 632.94L489.18 633.79L490.43 634.64L491.68 635.47L492.93 636.31L494.19 637.13L495.45 637.95L496.71 638.77L497.98 639.58L499.25 640.38L500.53 641.17L501.80 641.96L503.09 642.74L504.37 643.51L505.66 644.28L506.96 645.03L508.25 645.79L509.55 646.54L510.86 647.28L512.16 648.01L513.47 648.74L514.79 649.46L516.10 650.18L517.42 650.89L518.75 651.60L520.07 652.30L521.40 653.00L522.73 653.69L524.06 654.37L525.40 655.05L526.74 655.73L528.08 656.40L529.43 657.07L530.77 657.73L532.12 658.39L533.47 659.04L534.82 659.69L536.18 660.33L537.54 660.98L538.90 661.61L540.26 662.25L541.62 662.88L542.99 663.51L544.35 664.13L545.72 664.75L547.09 665.37L548.46 665.98L549.84 666.59L551.21 667.20L552.59 667.81L553.96 668.41L555.34 669.01L556.72 669.61L558.10 670.21L559.49 670.80L560.87 671.39L562.25 671.99L563.64 672.57L565.02 673.16L566.41 673.75L567.80 674.33L569.18 674.91L570.57 675.50L571.96 676.08L573.35 676.66L574.74 677.24L576.13 677.81L577.52 678.39L578.91 678.97L580.30 679.54L581.69 680.12L583.09 680.69L584.48 681.27L585.87 681.84L587.26 682.41L588.66 682.98L590.05 683.55L591.45 684.12L592.84 684.68L594.24 685.25L595.63 685.81L597.03 686.38L598.42 686.94L599.82 687.50L601.22 688.06L602.61 688.62L604.01 689.18L605.41 689.74L606.81 690.29L608.21 690.85L609.61 691.40L611.01 691.95L612.41 692.50L613.81 693.05L615.21 693.60L616.62 694.15L618.02 694.69L619.42 695.24L620.83 695.78L622.23 696.32L623.63 696.86L625.04 697.40L626.44 697.94L627.85 698.47L629.26 699.01L630.66 699.54L632.07 700.07L633.48 700.60L634.89 701.13L636.30 701.66L637.71 702.18L639.12 702.71L640.53 703.23L641.94 703.75L643.35 704.27L644.76 704.79L646.18 705.30L647.59 705.82L649.00 706.33L650.42 706.84L651.83 707.35L653.25 707.86L654.66 708.36L656.08 708.87L657.50 709.37L658.92 709.87L660.33 710.37L661.75 710.87L663.17 711.36L664.59 711.85L666.01 712.35L667.43 712.84L668.86 713.32L670.28 713.81L671.70 714.29L673.13 714.77L674.55 715.25L675.98 715.73L677.40 716.21L678.83 716.68L680.25 717.15L681.68 717.62L683.11 718.09L684.54 718.56L685.97 719.02L687.40 719.48L688.83 719.94L690.26 720.40L691.69 720.85L693.12 721.31L694.56 721.76L695.99 722.21L697.43 722.65L698.86 723.10L700.30 723.54L701.73 723.98L703.17 724.42L704.61 724.85L706.05 725.28L707.49 725.71L708.93 726.14L710.37 726.57L711.81 726.99L713.25 727.41L714.69 727.83L716.14 728.25L717.58 728.66L719.03 729.07L720.47 729.48L721.92 729.89L723.37 730.29L724.82 730.69L726.26 731.09L727.71 731.49L729.16 731.88L730.61 732.27L732.07 732.66L733.52 733.05L734.97 733.43L736.43 733.81L737.88 734.18L739.34 734.56L740.79 734.92L742.25 735.29L743.71 735.65L745.17 736.01L746.63 736.36L748.09 736.71L749.55 737.06L751.01 737.40L752.48 737.74L753.94 738.07L755.41 738.40L756.87 738.72L758.34 739.04L759.81 739.35L761.28 739.66L762.75 739.96L764.22 740.26L765.69 740.56L767.17 740.84L768.64 741.12L770.12 741.40L771.59 741.67L773.07 741.93L774.55 742.19L776.03 742.45L777.51 742.69L778.99 742.93L780.48 743.16L781.96 743.39L783.45 743.61L784.93 743.82L786.42 744.03L787.91 744.23L789.40 744.42L790.89 744.61L792.39 744.79L793.88 744.96L795.37 745.12L796.87 745.27L798.37 745.42L799.87 745.56L801.37 745.70L802.87 745.82L804.37 745.94L805.88 746.06L807.38 746.17L808.88 746.28L810.39 746.39L811.89 746.49L813.40 746.59L814.90 746.69L816.41 746.80L817.91 746.90L819.42 747.00L820.92 747.10L822.43 747.21L823.93 747.32L825.44 747.44L826.94 747.55L828.44 747.68L829.94 747.81L831.44 747.94L832.94 748.09L834.44 748.24L835.94 748.40L837.43 748.56L838.92 748.74L840.42 748.93L841.90 749.13L843.39 749.34L844.88 749.57L846.36 749.80L847.84 750.05L849.32 750.32L850.80 750.60L850.80 750.60L853.20 754.40L938.00 754.20L942.00 750.80L965.50 750.80L969.00 747.50L1036.00 747.30" stroke="#5B9BD5" stroke-width="4.1" stroke-linecap="round" stroke-linejoin="round" fill="none"/>
<path d="M116.50 741.50L116.80 768.00L118.70 779.50L118.70 779.50L119.97 778.55L121.16 777.56L122.29 776.53L123.37 775.46L124.38 774.35L125.34 773.22L126.24 772.05L127.10 770.85L127.90 769.63L128.66 768.37L129.38 767.09L130.05 765.79L130.69 764.47L131.29 763.13L131.85 761.76L132.38 760.39L132.89 758.99L133.36 757.58L133.81 756.16L134.24 754.73L134.65 753.29L135.04 751.84L135.41 750.38L135.76 748.91L136.10 747.44L136.43 745.96L136.75 744.47L137.06 742.99L137.36 741.49L137.66 740.00L137.95 738.51L138.24 737.01L138.54 735.52L138.83 734.03L139.13 732.54L139.43 731.05L139.74 729.57L140.05 728.09L140.36 726.61L140.68 725.14L141.00 723.66L141.32 722.19L141.65 720.72L141.98 719.25L142.31 717.79L142.64 716.32L142.97 714.86L143.30 713.40L143.64 711.93L143.97 710.47L144.31 709.01L144.64 707.55L144.98 706.09L145.31 704.64L145.65 703.18L145.98 701.72L146.32 700.26L146.65 698.80L146.98 697.34L147.30 695.88L147.63 694.41L147.96 692.95L148.28 691.49L148.60 690.02L148.92 688.56L149.23 687.09L149.55 685.63L149.86 684.16L150.18 682.69L150.49 681.23L150.80 679.76L151.11 678.29L151.41 676.82L151.72 675.35L152.02 673.88L152.32 672.41L152.63 670.93L152.93 669.46L153.23 667.99L153.52 666.52L153.82 665.04L154.12 663.57L154.41 662.09L154.71 660.62L155.00 659.14L155.30 657.67L155.59 656.19L155.88 654.72L156.17 653.24L156.46 651.76L156.75 650.29L157.04 648.81L157.33 647.33L157.62 645.85L157.90 644.37L158.19 642.90L158.48 641.42L158.76 639.94L159.05 638.46L159.34 636.98L159.62 635.50L159.91 634.02L160.20 632.54L160.48 631.07L160.77 629.59L161.05 628.11L161.34 626.63L161.63 625.15L161.91 623.67L162.20 622.19L162.49 620.71L162.78 619.23L163.06 617.75L163.35 616.27L163.64 614.79L163.93 613.31L164.22 611.84L164.51 610.36L164.80 608.88L165.09 607.40L165.39 605.92L165.68 604.45L165.98 602.97L166.27 601.49L166.57 600.01L166.86 598.54L167.16 597.06L167.46 595.58L167.76 594.11L168.06 592.63L168.36 591.16L168.67 589.68L168.97 588.21L169.28 586.73L169.59 585.26L169.90 583.79L170.21 582.32L170.52 580.84L170.83 579.37L171.15 577.90L171.46 576.43L171.78 574.96L172.10 573.49L172.42 572.02L172.75 570.55L173.07 569.09L173.40 567.62L173.73 566.15L174.06 564.69L174.39 563.22L174.73 561.76L175.07 560.29L175.41 558.83L175.75 557.37L176.09 555.90L176.44 554.44L176.79 552.98L177.14 551.52L177.49 550.07L177.85 548.61L178.20 547.15L178.56 545.69L178.93 544.24L179.29 542.78L179.66 541.33L180.03 539.88L180.41 538.43L180.78 536.98L181.16 535.53L181.55 534.08L181.93 532.63L182.32 531.18L182.71 529.74L183.11 528.29L183.50 526.85L183.90 525.41L184.31 523.97L184.72 522.53L185.13 521.09L185.55 519.65L185.97 518.21L186.39 516.78L186.82 515.34L187.26 513.91L187.70 512.48L188.14 511.05L188.59 509.63L189.05 508.20L189.51 506.78L189.98 505.35L190.45 503.93L190.93 502.51L191.42 501.10L191.91 499.68L192.41 498.27L192.92 496.86L193.43 495.45L193.95 494.04L194.48 492.63L195.01 491.23L195.56 489.83L196.11 488.43L196.67 487.03L197.24 485.64L197.81 484.24L198.40 482.85L198.99 481.47L199.59 480.08L200.21 478.70L200.83 477.32L201.46 475.94L202.10 474.56L202.75 473.19L203.41 471.82L204.08 470.46L204.76 469.09L205.45 467.73L206.16 466.38L206.87 465.03L207.60 463.69L208.34 462.35L209.09 461.02L209.85 459.70L210.62 458.39L211.41 457.08L212.21 455.78L213.02 454.50L213.85 453.22L214.69 451.96L215.55 450.71L216.41 449.47L217.30 448.24L218.20 447.02L219.11 445.82L220.04 444.64L220.98 443.47L221.94 442.31L222.91 441.17L223.90 440.05L224.91 438.95L225.94 437.86L226.98 436.79L228.04 435.74L229.11 434.71L230.20 433.70L231.31 432.71L232.44 431.74L233.59 430.80L234.76 429.87L235.94 428.97L237.14 428.10L238.37 427.25L239.61 426.42L240.87 425.61L242.15 424.84L243.44 424.08L244.75 423.36L246.07 422.66L247.41 421.99L248.77 421.34L250.13 420.72L251.51 420.13L252.90 419.57L254.30 419.04L255.72 418.53L257.14 418.06L258.57 417.61L260.01 417.20L261.45 416.81L262.90 416.46L264.36 416.14L265.83 415.85L267.29 415.59L268.77 415.36L270.24 415.17L271.72 415.00L273.20 414.88L274.68 414.78L276.16 414.72L277.64 414.70L279.12 414.71L280.60 414.75L282.08 414.83L283.55 414.95L285.02 415.09L286.49 415.28L287.96 415.49L289.42 415.74L290.87 416.01L292.33 416.32L293.78 416.66L295.22 417.03L296.66 417.42L298.10 417.85L299.52 418.30L300.95 418.78L302.37 419.28L303.78 419.81L305.19 420.36L306.59 420.94L307.98 421.54L309.37 422.16L310.75 422.81L312.12 423.47L313.48 424.16L314.84 424.87L316.18 425.59L317.52 426.34L318.86 427.10L320.18 427.88L321.49 428.67L322.79 429.48L324.09 430.31L325.37 431.15L326.65 432.01L327.91 432.88L329.16 433.76L330.41 434.65L331.64 435.55L332.86 436.47L334.07 437.39L335.26 438.33L336.45 439.27L337.63 440.23L338.79 441.19L339.95 442.17L341.10 443.15L342.23 444.14L343.36 445.14L344.48 446.15L345.58 447.17L346.68 448.19L347.78 449.23L348.86 450.27L349.93 451.32L351.00 452.37L352.06 453.44L353.11 454.51L354.15 455.58L355.19 456.67L356.21 457.76L357.24 458.86L358.25 459.96L359.26 461.07L360.26 462.18L361.26 463.30L362.25 464.43L363.24 465.56L364.22 466.70L365.19 467.84L366.16 468.98L367.13 470.13L368.09 471.29L369.04 472.44L369.99 473.61L370.94 474.77L371.89 475.94L372.83 477.11L373.76 478.29L374.70 479.46L375.63 480.65L376.56 481.83L377.48 483.01L378.41 484.20L379.33 485.39L380.25 486.58L381.17 487.78L382.08 488.97L383.00 490.17L383.91 491.36L384.83 492.56L385.74 493.76L386.65 494.96L387.56 496.16L388.48 497.35L389.39 498.55L390.30 499.75L391.21 500.95L392.13 502.15L393.04 503.34L393.96 504.54L394.87 505.73L395.79 506.92L396.71 508.11L397.64 509.30L398.56 510.49L399.49 511.67L400.42 512.86L401.35 514.04L402.28 515.22L403.22 516.39L404.16 517.57L405.10 518.74L406.04 519.91L406.99 521.08L407.93 522.24L408.89 523.41L409.84 524.57L410.79 525.73L411.75 526.88L412.71 528.04L413.67 529.19L414.64 530.34L415.60 531.49L416.57 532.63L417.54 533.78L418.52 534.92L419.50 536.06L420.48 537.19L421.46 538.33L422.44 539.46L423.43 540.59L424.42 541.72L425.41 542.84L426.40 543.97L427.40 545.09L428.40 546.20L429.40 547.32L430.41 548.43L431.42 549.54L432.43 550.65L433.44 551.76L434.45 552.86L435.47 553.96L436.49 555.06L437.52 556.16L438.54 557.25L439.57 558.34L440.60 559.43L441.64 560.52L442.67 561.60L443.71 562.68L444.76 563.76L445.80 564.83L446.85 565.91L447.90 566.98L448.96 568.05L450.01 569.11L451.07 570.17L452.13 571.23L453.20 572.29L454.27 573.35L455.34 574.40L456.41 575.45L457.49 576.49L458.57 577.54L459.65 578.58L460.74 579.62L461.83 580.66L462.92 581.69L464.01 582.72L465.11 583.75L466.21 584.77L467.31 585.79L468.42 586.81L469.53 587.83L470.64 588.84L471.75 589.85L472.87 590.86L473.99 591.87L475.12 592.87L476.24 593.87L477.37 594.86L478.50 595.85L479.64 596.84L480.78 597.83L481.92 598.81L483.06 599.79L484.21 600.77L485.35 601.74L486.51 602.72L487.66 603.68L488.82 604.65L489.98 605.61L491.14 606.57L492.31 607.52L493.48 608.47L494.65 609.42L495.82 610.36L497.00 611.30L498.18 612.24L499.36 613.18L500.54 614.11L501.73 615.03L502.92 615.96L504.12 616.88L505.31 617.79L506.51 618.71L507.71 619.62L508.91 620.52L510.12 621.43L511.33 622.32L512.54 623.22L513.76 624.11L514.97 625.00L516.19 625.88L517.42 626.76L518.64 627.64L519.87 628.51L521.10 629.38L522.33 630.24L523.57 631.11L524.81 631.96L526.05 632.82L527.29 633.66L528.54 634.51L529.79 635.35L531.04 636.19L532.29 637.02L533.55 637.85L534.81 638.68L536.07 639.50L537.33 640.31L538.60 641.13L539.87 641.94L541.14 642.74L542.41 643.54L543.69 644.34L544.97 645.13L546.25 645.92L547.53 646.70L548.82 647.48L550.11 648.26L551.40 649.03L552.69 649.79L553.99 650.55L555.29 651.31L556.59 652.06L557.89 652.81L559.20 653.56L560.50 654.30L561.81 655.03L563.13 655.76L564.44 656.49L565.76 657.21L567.08 657.93L568.40 658.64L569.73 659.35L571.06 660.05L572.39 660.75L573.72 661.44L575.05 662.13L576.39 662.82L577.73 663.49L579.07 664.17L580.41 664.84L581.76 665.50L583.11 666.16L584.46 666.82L585.81 667.47L587.16 668.12L588.52 668.76L589.88 669.39L591.24 670.02L592.61 670.65L593.97 671.27L595.34 671.88L596.71 672.49L598.09 673.10L599.46 673.70L600.84 674.30L602.22 674.89L603.60 675.48L604.98 676.07L606.36 676.65L607.75 677.23L609.14 677.80L610.53 678.37L611.92 678.93L613.31 679.50L614.70 680.06L616.10 680.61L617.50 681.16L618.89 681.71L620.29 682.26L621.69 682.80L623.10 683.34L624.50 683.88L625.90 684.42L627.31 684.95L628.71 685.48L630.12 686.01L631.53 686.54L632.94 687.06L634.35 687.59L635.76 688.11L637.17 688.63L638.58 689.15L639.99 689.66L641.40 690.18L642.82 690.69L644.23 691.20L645.65 691.71L647.06 692.23L648.48 692.74L649.89 693.24L651.31 693.75L652.72 694.26L654.14 694.77L655.55 695.28L656.97 695.78L658.39 696.29L659.80 696.80L661.22 697.30L662.63 697.81L664.05 698.32L665.46 698.83L666.88 699.33L668.29 699.84L669.70 700.35L671.12 700.86L672.53 701.38L673.94 701.89L675.36 702.40L676.77 702.91L678.18 703.43L679.59 703.94L681.00 704.46L682.41 704.97L683.82 705.49L685.23 706.00L686.64 706.52L688.05 707.04L689.46 707.55L690.87 708.07L692.28 708.58L693.69 709.10L695.10 709.61L696.51 710.13L697.93 710.64L699.34 711.15L700.75 711.67L702.16 712.18L703.57 712.69L704.98 713.20L706.39 713.71L707.81 714.22L709.22 714.73L710.63 715.24L712.05 715.75L713.46 716.25L714.88 716.76L716.29 717.26L717.71 717.76L719.13 718.26L720.54 718.76L721.96 719.26L723.38 719.75L724.80 720.25L726.22 720.74L727.64 721.23L729.07 721.72L730.49 722.20L731.91 722.69L733.34 723.17L734.77 723.65L736.19 724.13L737.62 724.60L739.05 725.08L740.48 725.55L741.91 726.01L743.34 726.48L744.77 726.94L746.21 727.40L747.64 727.86L749.08 728.31L750.51 728.76L751.95 729.20L753.39 729.65L754.83 730.09L756.27 730.52L757.71 730.95L759.15 731.38L760.59 731.81L762.04 732.23L763.48 732.64L764.93 733.06L766.38 733.46L767.83 733.87L769.27 734.27L770.73 734.66L772.18 735.05L773.63 735.44L775.08 735.82L776.54 736.19L777.99 736.56L779.45 736.93L780.91 737.29L782.37 737.65L783.83 738.00L785.29 738.34L786.75 738.68L788.22 739.01L789.68 739.34L791.15 739.67L792.61 739.98L794.08 740.29L795.55 740.60L797.02 740.90L798.49 741.19L799.97 741.47L801.44 741.75L802.92 742.03L804.39 742.29L805.87 742.55L807.35 742.81L808.83 743.05L810.31 743.29L811.79 743.52L813.28 743.75L814.76 743.97L816.25 744.18L817.74 744.38L819.23 744.58L820.72 744.76L822.21 744.94L823.70 745.12L825.19 745.28L826.69 745.44L828.19 745.59L829.69 745.73L831.18 745.86L832.69 745.99L834.19 746.10L835.69 746.21L837.20 746.31L838.70 746.40L840.21 746.48L841.72 746.55L843.23 746.62L844.74 746.67L846.25 746.72L847.77 746.75L849.28 746.78L850.80 746.80L850.80 746.80L853.20 754.20L938.20 754.00L942.70 750.40L975.60 750.40L980.20 747.00L1029.00 747.00L1033.00 745.00L1035.50 744.00" stroke="#70AD47" stroke-width="4.1" stroke-linecap="round" stroke-linejoin="round" fill="none"/>
<path d="M116.50 799.50L120.20 798.50L124.30 790.20L128.90 788.10L129.90 777.90L132.40 773.90L137.50 773.30L139.10 770.30L139.60 765.20L141.10 762.10L144.50 760.50L147.60 757.40L150.50 756.60L155.10 756.20L157.00 753.60L162.70 752.90L164.60 750.50L170.30 750.10L171.40 746.50L175.00 745.00L176.90 739.40L179.70 737.90L197.00 737.90L199.60 735.00L218.50 734.70L221.40 737.60L248.50 738.20L250.50 741.20L260.70 741.20L262.50 744.60L275.40 744.60L277.50 747.80L293.40 747.80L295.50 750.90L371.00 750.90L373.00 753.90L439.50 753.90L441.50 757.50L527.50 757.50L529.00 760.40L693.20 760.40L695.00 762.50L754.50 762.50L756.50 766.40L1036.00 766.80" stroke="#264478" stroke-width="3.6" stroke-linecap="round" stroke-linejoin="round" fill="none"/>
<text transform="translate(49.34 387.30) scale(0.9328 1)" font-size="28.93" fill="#000">1.2</text>
<text transform="translate(72.82 450.20) scale(0.8981 1)" font-size="28.92" fill="#000">1</text>
<text transform="translate(48.82 514.22) scale(0.9582 1)" font-size="28.81" fill="#000">0.8</text>
<text transform="translate(48.83 577.12) scale(0.9674 1)" font-size="28.39" fill="#000">0.6</text>
<text transform="translate(48.83 641.02) scale(0.9573 1)" font-size="28.53" fill="#000">0.4</text>
<text transform="translate(48.83 704.22) scale(0.9593 1)" font-size="28.53" fill="#000">0.2</text>
<text transform="translate(72.17 767.02) scale(1.0118 1)" font-size="28.53" fill="#000">0</text>
<text transform="translate(39.74 830.83) scale(1.0072 1)" font-size="28.11" fill="#000">-0.2</text>
<text transform="translate(39.73 893.73) scale(1.0315 1)" font-size="27.68" fill="#000">-0.4</text>
<text transform="translate(93.60 807.73) scale(0.9809 1)" font-size="27.97" fill="#000">500</text>
<text transform="translate(277.40 807.73) scale(0.9809 1)" font-size="27.97" fill="#000">550</text>
<text transform="translate(460.90 807.73) scale(0.9876 1)" font-size="27.97" fill="#000">600</text>
<text transform="translate(644.70 807.73) scale(0.9876 1)" font-size="27.97" fill="#000">650</text>
<text transform="translate(828.48 807.73) scale(0.9879 1)" font-size="27.97" fill="#000">700</text>
<text transform="translate(1012.28 807.73) scale(0.9879 1)" font-size="27.97" fill="#000">750</text>
<text transform="translate(430.94 871.90) scale(1.0084 1)" font-size="36.00" fill="#000">Wavelength(nm)</text>
<text transform="translate(26.9 708.97) rotate(-90) scale(0.9750 1)" font-size="36" fill="#000">Absorbance</text>
<text transform="translate(1004.44 394.11) scale(1 1.3508)" font-size="26.78" fill="#000" stroke="#000" stroke-width="0.8">(</text>
<text transform="translate(1016.72 394.84) scale(1 1.0399)" font-size="35.36" fill="#000">b</text>
<text transform="translate(1038.85 394.11) scale(1 1.4315)" font-size="25.27" fill="#000" stroke="#000" stroke-width="0.8">)</text>
<text transform="translate(745.30 26.31) scale(1 1.2455)" font-size="29.04" fill="#000" stroke="#000" stroke-width="0.8">(</text>
<text transform="translate(757.73 26.67) scale(1 1.2368)" font-size="27.45" fill="#000" stroke="#000" stroke-width="0.4">a</text>
<text transform="translate(777.84 26.31) scale(1 1.2960)" font-size="27.91" fill="#000" stroke="#000" stroke-width="0.8">)</text>
<path d="M177.0 922.1H230.0" stroke="#4472C4" stroke-width="4.1" stroke-linecap="round"/>
<text transform="translate(235.33 928.60) scale(1.0674 1)" font-size="27.90" fill="#595959">1 ug/ml</text>
<path d="M407.9 922.1H460.8" stroke="#ED7D31" stroke-width="4.1" stroke-linecap="round"/>
<text transform="translate(466.91 928.60) scale(1.0609 1)" font-size="27.90" fill="#595959">2 ug/ml</text>
<path d="M638.6 922.1H691.1" stroke="#A5A5A5" stroke-width="4.1" stroke-linecap="round"/>
<text transform="translate(698.28 928.60) scale(1.0501 1)" font-size="27.90" fill="#595959">3 ug/ml</text>
<path d="M869.9 922.1H922.4" stroke="#FFC000" stroke-width="4.1" stroke-linecap="round"/>
<text transform="translate(927.92 928.60) scale(1.0687 1)" font-size="27.90" fill="#595959">4 ug/ml</text>
<path d="M177.0 968.6H230.0" stroke="#5B9BD5" stroke-width="4.1" stroke-linecap="round"/>
<text transform="translate(236.42 975.50) scale(1.0553 1)" font-size="27.90" fill="#595959">5 ug/ml</text>
<path d="M407.9 968.6H460.8" stroke="#70AD47" stroke-width="4.1" stroke-linecap="round"/>
<text transform="translate(466.90 975.50) scale(1.0611 1)" font-size="27.90" fill="#595959">6 ug/ml</text>
<path d="M638.6 968.6H691.1" stroke="#264478" stroke-width="4.1" stroke-linecap="round"/>
<text transform="translate(697.13 975.50) scale(0.9920 1)" font-size="27.90" fill="#595959">Blank</text>
</svg></body></html>
